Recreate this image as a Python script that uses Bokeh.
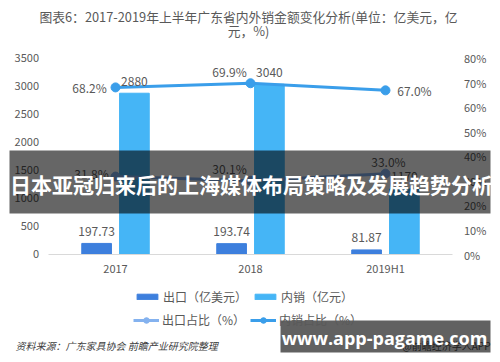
from bokeh.plotting import figure
from bokeh.models import (ColumnDataSource, Range1d, FactorRange, LinearAxis, FixedTicker,
                          PrintfTickFormatter, Label, BoxAnnotation, Legend, LegendItem)
from bokeh.transform import dodge
from bokeh.core.properties import value
from bokeh.embed import file_html
from bokeh.resources import INLINE

# ---------------- data ----------------
categories = ["2017", "2018", "2019H1"]
export_usd = [197.73, 193.74, 81.87]          # 出口（亿美元）
domestic_cny = [2880, 3040, 1170]              # 内销（亿元）
export_share = [31.8, 30.1, 33.0]              # 出口占比（%）
domestic_share = [68.2, 69.9, 67.0]            # 内销占比（%）
left_ticks = [0, 500, 1000, 1500, 2000, 2500, 3000, 3500]
right_ticks = [0, 10, 20, 30, 40, 50, 60, 70, 80]

title_line1 = "图表6：2017-2019年上半年广东省内外销金额变化分析(单位：亿美元，亿"
title_line2 = "元，%)"
source_note = "资料来源：广东家具协会 前瞻产业研究院整理"
brand_note = "@前瞻经济学人APP"
overlay_title = "日本亚冠归来后的上海媒体布局策略及发展趋势分析"
overlay_site = "www.app-pagame.com"

# label placement offsets (screen px)
exp_dx = [-24, -21, 3]
exp_dy = [-3, -12, -12]
dom_dx = [-26, -21, 29]
dom_dy = [0, -12, 0]

FONT = "Noto Sans CJK SC"
GREY = "#595959"
C_EXP = "#3d7fdd"
C_DOM = "#45b5f6"
C_EXP_S = "#84b2ef"
C_DOM_S = "#3a9eea"

W, H = 500, 362

src = ColumnDataSource(dict(
    cat=categories,
    exp=export_usd, dom=domestic_cny,
    exp_s=export_share, dom_s=domestic_share,
    exp_lbl=[f"{v:.2f}" for v in export_usd],
    dom_lbl=[f"{v:d}" for v in domestic_cny],
    exp_s_lbl=[f"{v:.1f}%" for v in export_share],
    dom_s_lbl=[f"{v:.1f}%" for v in domestic_share],
    exp_dx=exp_dx, exp_dy=exp_dy, dom_dx=dom_dx, dom_dy=dom_dy,
))

# frame covers the whole canvas; the axes sit at fixed locations inside it
p = figure(width=W, height=H,
           x_range=FactorRange(*categories, range_padding=0.2347),
           y_range=Range1d(-1928.6, 4535.7), output_backend="svg", toolbar_location=None,
           min_border_left=0, min_border_right=0, min_border_top=0, min_border_bottom=0)
p.outline_line_color = None
p.xgrid.visible = False
p.ygrid.visible = False
p.background_fill_color = "white"
p.border_fill_color = "white"

p.yaxis.fixed_location = 0
p.yaxis.ticker = FixedTicker(ticks=left_ticks)
p.yaxis.bounds = (0, 3500)
p.yaxis.axis_line_color = None
p.yaxis.major_tick_line_color = None
p.yaxis.minor_tick_line_color = None
p.yaxis.major_label_text_font_size = "11px"
p.yaxis.major_label_text_color = GREY
p.yaxis.major_label_text_font = FONT
p.yaxis.major_label_standoff = 3

p.xaxis.fixed_location = 0
p.xaxis.bounds = (0, 3)
p.xaxis.axis_line_color = "#d9d9d9"
p.xaxis.major_tick_line_color = None
p.xaxis.minor_tick_line_color = None
p.xaxis.major_label_text_font_size = "11px"
p.xaxis.major_label_text_color = GREY
p.xaxis.major_label_text_font = FONT
p.xaxis.major_label_standoff = 0

p.extra_y_ranges = {"pct": Range1d(-44.08, 103.67)}
ax_r = LinearAxis(y_range_name="pct", ticker=FixedTicker(ticks=right_ticks),
                  formatter=PrintfTickFormatter(format="%d%%"), fixed_location=3,
                  bounds=(0, 80))
ax_r.axis_line_color = None
ax_r.major_tick_line_color = None
ax_r.minor_tick_line_color = None
ax_r.major_label_text_font_size = "11px"
ax_r.major_label_text_color = GREY
ax_r.major_label_text_font = FONT
ax_r.major_label_standoff = 5
p.add_layout(ax_r, "right")

# bars
r_exp = p.vbar(x=dodge("cat", -0.14, range=p.x_range), top="exp", width=0.22,
               source=src, color=C_EXP)
r_dom = p.vbar(x=dodge("cat", 0.14, range=p.x_range), top="dom", width=0.22,
               source=src, color=C_DOM)

# lines
l_exp = p.line("cat", "exp_s", y_range_name="pct", source=src, line_width=3, color=C_EXP_S)
s_exp = p.scatter("cat", "exp_s", y_range_name="pct", source=src, size=9, color=C_EXP_S)
l_dom = p.line("cat", "dom_s", y_range_name="pct", source=src, line_width=3, color=C_DOM_S)
s_dom = p.scatter("cat", "dom_s", y_range_name="pct", source=src, size=9, color=C_DOM_S)

txt = dict(text_align="center", text_baseline="middle", text_font=value(FONT),
           text_font_size="12px", text_color=GREY, source=src)
p.text(x=dodge("cat", -0.14, range=p.x_range), y="exp", text="exp_lbl", y_offset=-12, **txt)
p.text(x=dodge("cat", 0.14, range=p.x_range), y="dom", text="dom_lbl", y_offset=-12, **txt)
p.text(x="cat", y="exp_s", y_range_name="pct", text="exp_s_lbl",
       x_offset="exp_dx", y_offset="exp_dy", **txt)
p.text(x="cat", y="dom_s", y_range_name="pct", text="dom_s_lbl",
       x_offset="dom_dx", y_offset="dom_dy", **txt)

# legends
leg_style = dict(orientation="horizontal", padding=0, margin=0, spacing=5,
                 label_standoff=3, glyph_width=26, border_line_color=None,
                 background_fill_alpha=0, label_text_font=FONT,
                 label_text_font_size="12px", label_text_color=GREY, label_height=14)
leg1 = Legend(items=[LegendItem(label="出口（亿美元）", renderers=[r_exp]),
                     LegendItem(label="内销（亿元）", renderers=[r_dom])],
              location=(134, 57), glyph_height=7, **leg_style)
leg2 = Legend(items=[LegendItem(label="出口占比（%）", renderers=[l_exp, s_exp]),
                     LegendItem(label="内销占比（%）", renderers=[l_dom, s_dom])],
              location=(133, 34), glyph_height=14, **leg_style)
p.add_layout(leg1)
p.add_layout(leg2)

# titles / notes (screen units, frame == canvas)
lab = dict(x_units="screen", y_units="screen", text_font=FONT)
p.add_layout(Label(x=248, y=346, text=title_line1, text_align="center", text_baseline="middle",
                   text_font_size="12.8px", text_color=GREY, **lab))
p.add_layout(Label(x=248, y=332, text=title_line2, text_align="center", text_baseline="middle",
                   text_font_size="12.8px", text_color=GREY, **lab))
p.add_layout(Label(x=15, y=17, text=source_note, text_align="left", text_baseline="middle",
                   text_font_size="10px", text_font_style="italic", text_color="#404040", **lab))
p.add_layout(Label(x=490, y=17, text=brand_note, text_align="right", text_baseline="middle",
                   text_font_size="10px", text_color=GREY, **lab))

# overlays
p.add_layout(BoxAnnotation(left=9, right=490, top=212, bottom=149,
                           left_units="screen", right_units="screen",
                           top_units="screen", bottom_units="screen",
                           fill_color="black", fill_alpha=0.6, line_color=None, level="overlay"))
p.add_layout(Label(x=251, y=179, text=overlay_title, text_align="center", text_baseline="middle",
                   text_font_size="21px", text_font_style="bold", text_color="white",
                   level="overlay", **lab))
p.add_layout(BoxAnnotation(left=280, right=490, top=42, bottom=10,
                           left_units="screen", right_units="screen",
                           top_units="screen", bottom_units="screen",
                           fill_color="black", fill_alpha=0.62, line_color=None, level="overlay"))
p.add_layout(Label(x=384, y=25, text=overlay_site, text_align="center", text_baseline="middle",
                   text_font_size="18px", text_font_style="bold", text_color="white",
                   level="overlay", x_units="screen", y_units="screen", text_font="Open Sans"))

open("out.html", "w").write(file_html(p, INLINE))
